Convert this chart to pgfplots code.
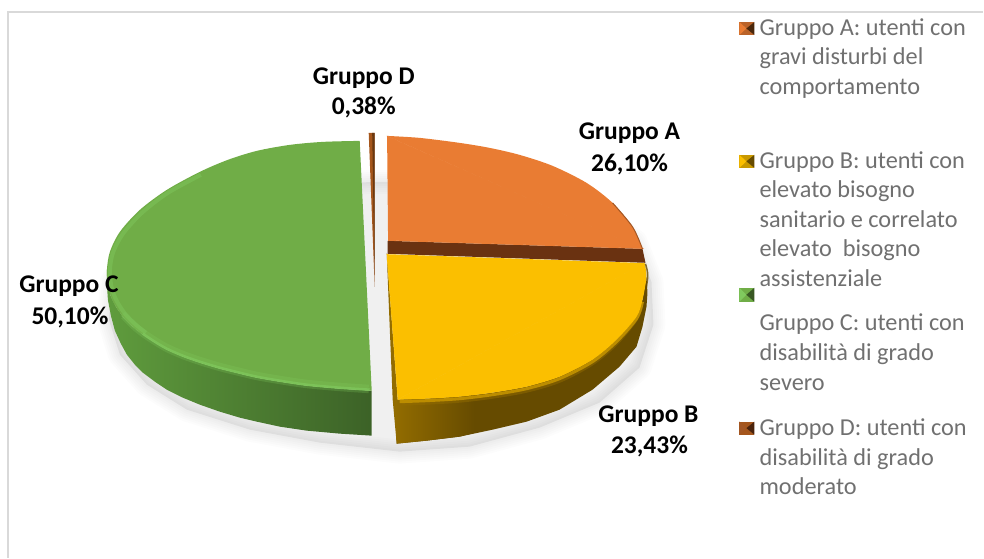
\documentclass[border=0pt]{standalone}
\usepackage{fontspec}
\setmainfont{Carlito}
\usepackage{pgfplots}
\usepackage{pgfplotstable}
\pgfplotsset{compat=1.18}

\definecolor{orangeTop}{RGB}{233,124,51}
\definecolor{yellowTop}{RGB}{251,191,0}
\definecolor{greenTop}{RGB}{112,173,71}
\definecolor{greenLight}{RGB}{128,201,94}
\definecolor{greenSideL}{RGB}{95,156,61}
\definecolor{greenSideM}{RGB}{80,128,51}
\definecolor{greenSideR}{RGB}{60,98,39}
\definecolor{bandBrown}{RGB}{106,50,17}
\definecolor{yellowSide}{RGB}{102,75,0}
\definecolor{yellowSideL}{RGB}{146,108,0}
\definecolor{dBrown}{RGB}{165,86,28}
\definecolor{dDark}{RGB}{105,56,16}
\definecolor{legGrey}{RGB}{112,112,112}

% rough outline of the drop shadow, in picture pixels
\pgfplotstableread{
x y
375 182
290 186
200 208
140 244
112 282
109 320
120 355
147 385
187 410
250 430
320 443
400 452
470 447
540 428
600 403
640 368
654 325
652 282
636 242
600 212
520 188
450 182
375 182
}\shadowtab

\newcommand{\lab}[3]{\node[font=\fontsize{25.5}{28}\selectfont\bfseries,text=black,inner sep=0pt,anchor=base] at (axis cs:#1,#2) {#3};}
\newcommand{\leg}[2]{\node[font=\fontsize{24.3}{28}\selectfont,text=legGrey,inner sep=0pt,anchor=base west] at (axis cs:760,#1) {#2};}

\begin{document}
\begin{tikzpicture}
\begin{axis}[
  scale only axis, width=984pt, height=558pt,
  xmin=0, xmax=984, ymin=0, ymax=558, y dir=reverse,
  hide axis, clip=false]

% keeps the page as large as the whole axis
\addplot[draw=none] coordinates {(0,0)(984,0)(984,558)(0,558)};

% frame of the chart area
\addplot[draw=black!15, line width=1.6pt] coordinates {(8,558)(8,12)(984,12)};

% shadow
\addplot[fill=black, fill opacity=0.06, draw=none] table {\shadowtab};
\pgfplotsinvokeforeach{4,8,12,16,20,24}{
  \addplot[draw=black, draw opacity=0.012, line width=#1pt, line join=round] table {\shadowtab};
}

% Gruppo C side
\addplot[draw=none, left color=greenSideL, middle color=greenSideM, right color=greenSideR, shading angle=90] coordinates {
 (107,270)(107,285)(108,300)(111,316)(115,331)(121,344)(127,355)(135,365)(143,373)(155,382)(167,390)(183,398)(200,405)(220,412)(240,418)(257,422)(280,427)(307,431)(340,434)(372,436)
 (372,391)(340,389)(307,386)(280,382)(257,378)(240,374)(220,369)(200,363)(183,357)(167,350)(155,343)(143,335)(133,327)(123,317)(116,307)(111,297)(108,285)};
% highlight on the rim
\addplot[draw=greenLight, line width=5pt, opacity=0.25, smooth] coordinates {
 (123,317)(133,327)(143,335)(155,343)(167,350)(183,357)(200,363)(220,369)(240,374)(257,378)(280,382)(307,386)(340,389)(369,391)};
% Gruppo C top
\addplot[fill=greenTop, draw=none, smooth] coordinates {
 (360,141)(323,142)(290,145)(257,151)(228,160)(200,172)(167,190)(140,210)(120,232)(110,252)(107,270)(108,285)(111,297)(116,307)(123,317)(133,327)(143,335)(155,343)(167,350)(183,357)(200,363)(220,369)(240,374)(257,378)(280,382)(307,386)(340,389)(372,391)};
\addplot[draw=greenLight, line width=6pt, opacity=0.25, smooth] coordinates {
 (123,314)(133,324)(143,332)(155,340)(167,347)(183,354)(200,360)(220,366)(240,371)(257,375)(280,379)(307,383)(340,386)(369,388)};
\addplot[draw=greenLight, line width=2.5pt, opacity=0.7, smooth] coordinates {
 (143,334)(155,342)(167,349)(183,356)(200,362)(220,368)(240,373)(257,377)(280,381)(307,385)(340,388)(370,390)};
\addplot[draw=greenLight, line width=4pt, opacity=0.45, smooth] coordinates {
 (201,175)(168,193)(142,213)(123,234)(113,253)(110,270)(111,284)(114,295)(119,305)(126,315)(136,325)(146,333)};

% Gruppo D sliver
\addplot[fill=dBrown, draw=none] coordinates {(369,133)(375,133)(375,287)};
\addplot[fill=dDark, draw=none] coordinates {(372.5,133)(375,133)(375,287)};

% Gruppo B side
\addplot[fill=yellowSide, draw=none] coordinates {
 (647,277)(648,293)(647,307)(643,327)(637,347)(620,367)(593,390)(560,410)(527,422)(493,430)(460,437)(427,441)(397,444)(395,400)
 (427,399)(460,397)(493,393)(527,387)(560,377)(593,360)(617,340)(637,317)(643,300)};
\addplot[draw=none, left color=yellowSideL, right color=yellowSide, shading angle=90] coordinates {
 (397,444)(427,441)(460,437)(475,433)(475,395)(460,397)(427,399)(395,400)};
\addplot[fill=yellowSideL, draw=none] coordinates {(387,253)(398,400)(397,444)(393,400)};
% soft edge of the yellow top
\addplot[draw=yellowSideL, line width=6pt, opacity=0.5, smooth] coordinates {
 (641,306)(635,320)(616,343)(592,363)(560,380)(527,390)(493,396)(460,400)(427,402)(402,403)};
\addplot[draw=yellowSideL!60!yellowTop, line width=3pt, smooth] coordinates {
 (643,302)(637,319)(617,342)(593,362)(560,379)(527,389)(493,395)(460,399)(427,401)(400,402)};

% brown band between A and B
\addplot[fill=bandBrown, draw=none] coordinates {(388,241)(643,249)(646,263)(388,254)};

% Gruppo A top
\addplot[fill=orangeTop, draw=none, smooth] coordinates {
 (387,136)(420,138)(460,143)(490,148)(520,155)(553,166)(587,183)(613,203)(633,227)(643,249)};
\addplot[fill=orangeTop, draw=orangeTop, line width=0.8pt] coordinates {(387.4,136.4)(642.6,248.6)(388.4,240.6)};
\addplot[draw=orangeTop!70!black, line width=1pt, smooth] coordinates {(613,203)(633,227)(643,249)};

% Gruppo B top
\addplot[fill=yellowTop, draw=none, smooth] coordinates {
 (645,263)(647,277)(643,300)(637,317)(617,340)(593,360)(560,377)(527,387)(493,393)(460,397)(427,399)(398,400)};
\addplot[fill=yellowTop, draw=yellowTop, line width=0.8pt] coordinates {(644.5,263.3)(398.4,399.6)(387.4,254.4)};
\addplot[draw=yellowSide, line width=1.5pt, opacity=0.8, smooth] coordinates {(646,264)(648,272)(648,280)(646,292)};

% data labels
\lab{364}{85}{Gruppo D}
\lab{364}{115}{0,38\%}
\lab{630}{140}{Gruppo A}
\lab{630}{172}{26,10\%}
\lab{649}{423}{Gruppo B}
\lab{650}{454}{23,43\%}
\lab{69}{293}{Gruppo C}
\lab{70}{325}{50,10\%}

% legend keys
\addplot[fill=orangeTop!80!black, draw=none] coordinates {(740,22)(755,22)(755,35)(740,35)};
\addplot[fill=orangeTop, draw=none] coordinates {(740,22)(747,28.5)(740,35)};
\addplot[fill=dDark!70!black, draw=none] coordinates {(755,22)(747,28.5)(755,35)};
\addplot[fill=yellowTop!80!black, draw=none] coordinates {(740,155)(755,155)(755,168)(740,168)};
\addplot[fill=yellowTop, draw=none] coordinates {(740,155)(747,161.5)(740,168)};
\addplot[fill=yellowSide, draw=none] coordinates {(755,155)(747,161.5)(755,168)};
\addplot[fill=greenTop, draw=none] coordinates {(740,288)(755,288)(755,302)(740,302)};
\addplot[fill=greenLight, draw=none] coordinates {(740,288)(747,295)(740,302)};
\addplot[fill=greenTop!50!black, draw=none] coordinates {(755,288)(747,295)(755,302)};
\addplot[fill=dBrown, draw=none] coordinates {(740,422)(755,422)(755,435)(740,435)};
\addplot[fill=orangeTop!70!black, draw=none] coordinates {(740,422)(747,428.5)(740,435)};
\addplot[fill=bandBrown!70!black, draw=none] coordinates {(755,422)(747,428.5)(755,435)};

% legend text
\leg{36}{Gruppo A: utenti con}
\leg{65}{gravi disturbi del}
\leg{95}{comportamento}
\leg{169}{Gruppo B: utenti con}
\leg{198}{elevato bisogno}
\leg{228}{sanitario e correlato}
\leg{257}{elevato\ \ bisogno}
\leg{287}{assistenziale}
\leg{331}{Gruppo C: utenti con}
\leg{361}{disabilità di grado}
\leg{391}{severo}
\leg{436}{Gruppo D: utenti con}
\leg{466}{disabilità di grado}
\leg{495}{moderato}
\end{axis}
\end{tikzpicture}
\end{document}
